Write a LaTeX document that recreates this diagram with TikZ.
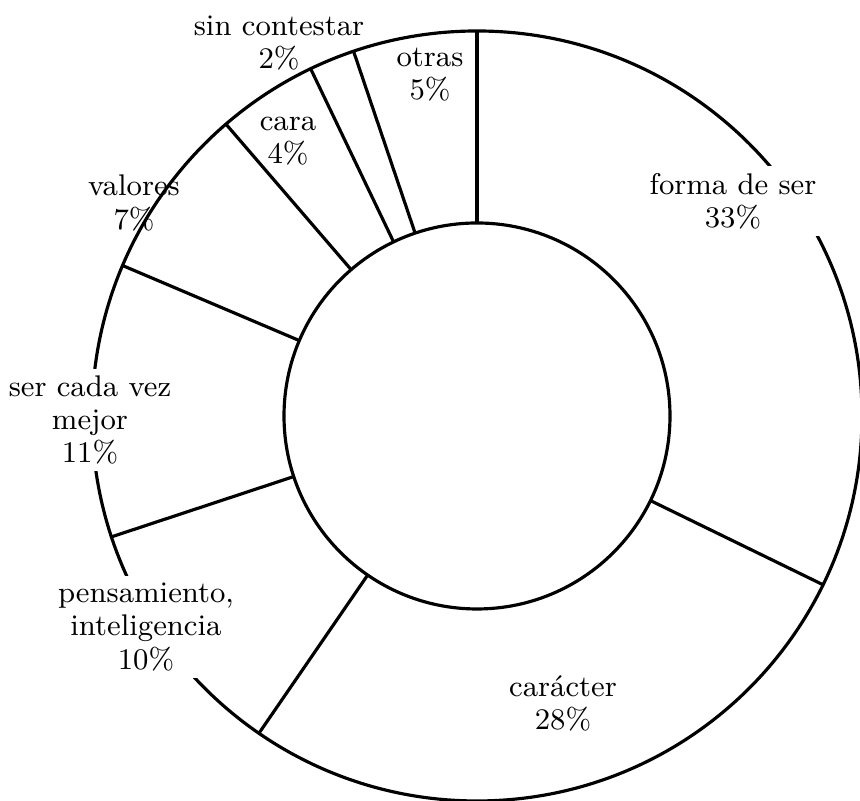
\documentclass[tikz,border=0pt]{standalone}
\usepackage{amsmath}
\usepackage{tikz}

\begin{document}
\begin{tikzpicture}[x=0.01cm, y=0.01cm, line width=0.9pt]
                \tikzstyle{lbl}=[align=center, inner sep=1pt, font=\fontsize{8.5}{9.4}\selectfont]
                \tikzstyle{cut}=[lbl, fill=white, inner sep=2pt]
                \useasboundingbox (0,0) rectangle (860,801);
                \coordinate (Z) at (477,385);

                \draw (Z) circle (193);
                \draw (Z) circle (385);
                \foreach \a in {90,-26,-124.5,-161.7,157,130.7,115.6,108.7}
                    \draw (Z) ++(\a:193) -- ++(\a:192);

                \node[cut]    (F) at (733,600)   {forma de ser\\33\%};
                \node[lbl]    (C) at (563,98)    {carácter\\28\%};
                \node[cut]    (P) at (146,174)   {pensamiento,\\inteligencia\\10\%};
                \node[cut]    (S) at (90,381)    {ser cada vez\\mejor\\11\%};
                \node[lbl]    (V) at (134,598)   {valores\\7\%};
                \node[lbl]    (K) at (288,660)   {cara\\4\%};
                \node[lbl]    (N) at (279,758)   {sin contestar\\2\%};
                \node[lbl]    (O) at (430,726)   {otras\\5\%};
            \end{tikzpicture}
\end{document}
